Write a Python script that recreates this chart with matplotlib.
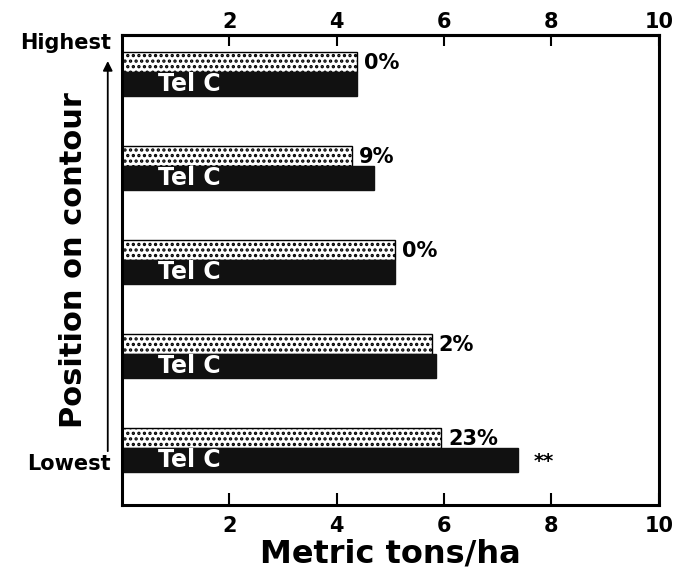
import matplotlib
matplotlib.use("Agg")
import matplotlib.pyplot as plt
import numpy as np

plt.rcParams['font.family'] = ['DejaVu Sans']
plt.rcParams['font.weight'] = 'bold'
plt.rcParams['hatch.linewidth'] = 1.6

# position on contour, highest first
positions = ['Highest', '', '', '', 'Lowest']
stippled = [4.37, 4.28, 5.08, 5.77, 5.94]
tel_c = [4.37, 4.69, 5.08, 5.85, 7.37]
pct = ['0%', '9%', '0%', '2%', '23%']
xticks = [2, 4, 6, 8, 10]

fig = plt.figure(figsize=(6.82, 5.71), dpi=100)
ax = fig.add_axes([0.179, 0.116, 0.787, 0.823])

y = np.arange(len(stippled))[::-1]  # highest at top
h_dot, h_blk = 0.21, 0.26

ax.barh(y, stippled, height=h_dot, align='edge', color='white',
        edgecolor='black', hatch='...', linewidth=1.0)
ax.barh(y - h_blk, tel_c, height=h_blk, align='edge', color='#111111',
        edgecolor='#111111', linewidth=1.0)

for yi, s, b, p in zip(y, stippled, tel_c, pct):
    ax.text(s + 0.13, yi + h_dot / 2 - 0.01, p, fontsize=15, fontweight='bold',
            va='center', ha='left')
    ax.text(0.66, yi - h_blk / 2, 'Tel C', fontsize=17, fontweight='bold',
            color='white', va='center', ha='left')

# significance mark on lowest position
ax.text(tel_c[-1] + 0.3, y[-1] - h_blk / 2 - 0.02, '**', fontsize=14,
        fontweight='bold', va='center', ha='left')

ax.set_xlim(0, 10)
ax.set_ylim(-0.606, 4.39)
ax.set_xticks(xticks)
ax.set_xticklabels([str(t) for t in xticks])
ax.tick_params(axis='x', direction='in', length=9, width=1.5,
               labelsize=15, pad=8)

top = ax.secondary_xaxis('top')
top.set_xticks(xticks)
top.set_xticklabels([str(t) for t in xticks])
top.tick_params(axis='x', direction='in', length=8, width=1.5,
                labelsize=15, pad=2)
top.spines['top'].set_linewidth(2.2)

ax.set_yticks([4.32, -0.15])
ax.set_yticklabels(['Highest', 'Lowest'], fontsize=15, fontweight='bold')
ax.tick_params(axis='y', length=0, pad=8)

for sp in ax.spines.values():
    sp.set_linewidth(2.2)

ax.set_xlabel('Metric tons/ha', fontsize=23, fontweight='bold', labelpad=2)

fig.text(0.108, 0.545, 'Position on contour', rotation=90, fontsize=22,
         fontweight='bold', ha='center', va='center')
ax.annotate('', xy=(0.158, 0.898), xytext=(0.158, 0.205),
            xycoords='figure fraction', textcoords='figure fraction',
            arrowprops=dict(arrowstyle='-|>', color='black', lw=1.3,
                            mutation_scale=14))

fig.savefig('out.png', dpi=100)
